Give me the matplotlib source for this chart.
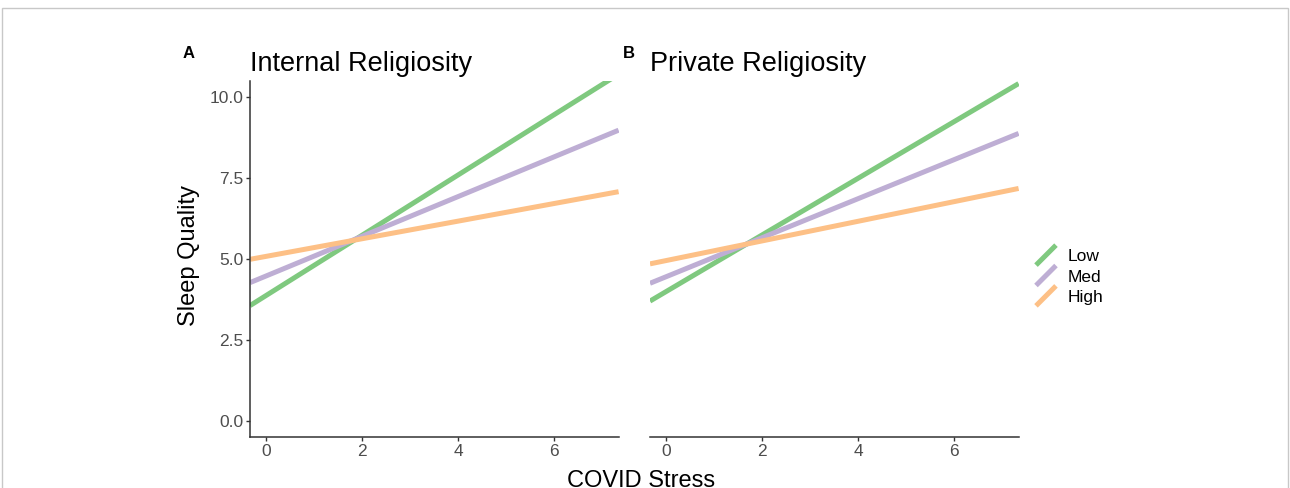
import matplotlib
matplotlib.use('Agg')
import matplotlib.pyplot as plt
from matplotlib.lines import Line2D
from matplotlib.legend_handler import HandlerBase
from matplotlib.patches import Rectangle

plt.rcParams['font.family'] = ['Liberation Sans', 'DejaVu Sans']

# data (line ends at the panel edges)
x_ends = [-0.34, 7.34]
internal_low = [3.56, 10.71]
internal_med = [4.27, 8.98]
internal_high = [4.99, 7.08]
private_low = [3.70, 10.42]
private_med = [4.25, 8.88]
private_high = [4.85, 7.18]

groups = ['Low', 'Med', 'High']
colors = ['#7FC97F', '#BEAED4', '#FDC086']
panels = [('A', 'Internal Religiosity', [internal_low, internal_med, internal_high]),
          ('B', 'Private Religiosity', [private_low, private_med, private_high])]
xticks = [0, 2, 4, 6]
yticks = [0.0, 2.5, 5.0, 7.5, 10.0]


class DiagHandler(HandlerBase):
    # ggplot style abline key: a diagonal stroke
    def create_artists(self, legend, orig_handle, xdescent, ydescent,
                       width, height, fontsize, trans):
        y0 = (height - width) / 2
        ln = Line2D([-xdescent, -xdescent + width],
                    [-ydescent + y0, -ydescent + y0 + width],
                    color=orig_handle.get_color(), lw=orig_handle.get_linewidth(),
                    solid_capstyle='butt')
        ln.set_transform(trans)
        return [ln]


fig = plt.figure(figsize=(12.9, 4.88), dpi=100)

W, H = 1290, 488
lefts = [250, 650]
ax_w = 368.6
ax_top, ax_bot = 81, 437

handles = []
for i, (tag, title, series) in enumerate(panels):
    ax = fig.add_axes([lefts[i] / W, 1 - ax_bot / H, ax_w / W, (ax_bot - ax_top) / H])
    for vals, c, g in zip(series, colors, groups):
        ln, = ax.plot(x_ends, vals, color=c, lw=3.6, solid_capstyle='butt', label=g)
        if i == 0:
            handles.append(ln)
    ax.set_xlim(x_ends[0], x_ends[1])
    ax.set_ylim(-0.5, 10.5)
    ax.set_xticks(xticks)
    ax.set_xticklabels([str(t) for t in xticks])
    for s in ['top', 'right']:
        ax.spines[s].set_visible(False)
    for s in ['left', 'bottom']:
        ax.spines[s].set_color('#333333')
        ax.spines[s].set_linewidth(1.1)
    ax.tick_params(colors='#333333', labelcolor='#4D4D4D', labelsize=12.5,
                   length=3, width=1, pad=2)
    if i == 0:
        ax.set_yticks(yticks)
        ax.set_yticklabels(['%.1f' % t for t in yticks])
    else:
        ax.spines['left'].set_visible(False)
        ax.set_yticks([])
    ax.set_title(title, loc='left', fontsize=19.5, pad=7, color='black')
    fig.text((183 if i == 0 else 623) / W, 1 - 57.5 / H, tag,
             fontsize=12, fontweight='bold', va='baseline', ha='left')

fig.text(189 / W, 1 - 256 / H, 'Sleep Quality', rotation=90, fontsize=17,
         ha='center', va='center')
fig.text(641 / W, 1 - 481 / H, 'COVID Stress', fontsize=17,
         ha='center', va='center')

fig.legend(handles=handles, labels=groups, loc='center left',
           bbox_to_anchor=(1036 / W, 1 - 277 / H), frameon=False,
           fontsize=12.5, handlelength=1.15, handletextpad=0.65,
           labelspacing=0.3, borderpad=0, borderaxespad=0,
           handler_map={Line2D: DiagHandler()})

# outer frame of the figure panel
fig.add_artist(Rectangle((2 / W, -0.2), 1286 / W, 1.2 - 8 / H,
                         transform=fig.transFigure, fill=False,
                         edgecolor='#C8C8C8', lw=1, clip_on=False))

fig.savefig('out.png', dpi=100)
